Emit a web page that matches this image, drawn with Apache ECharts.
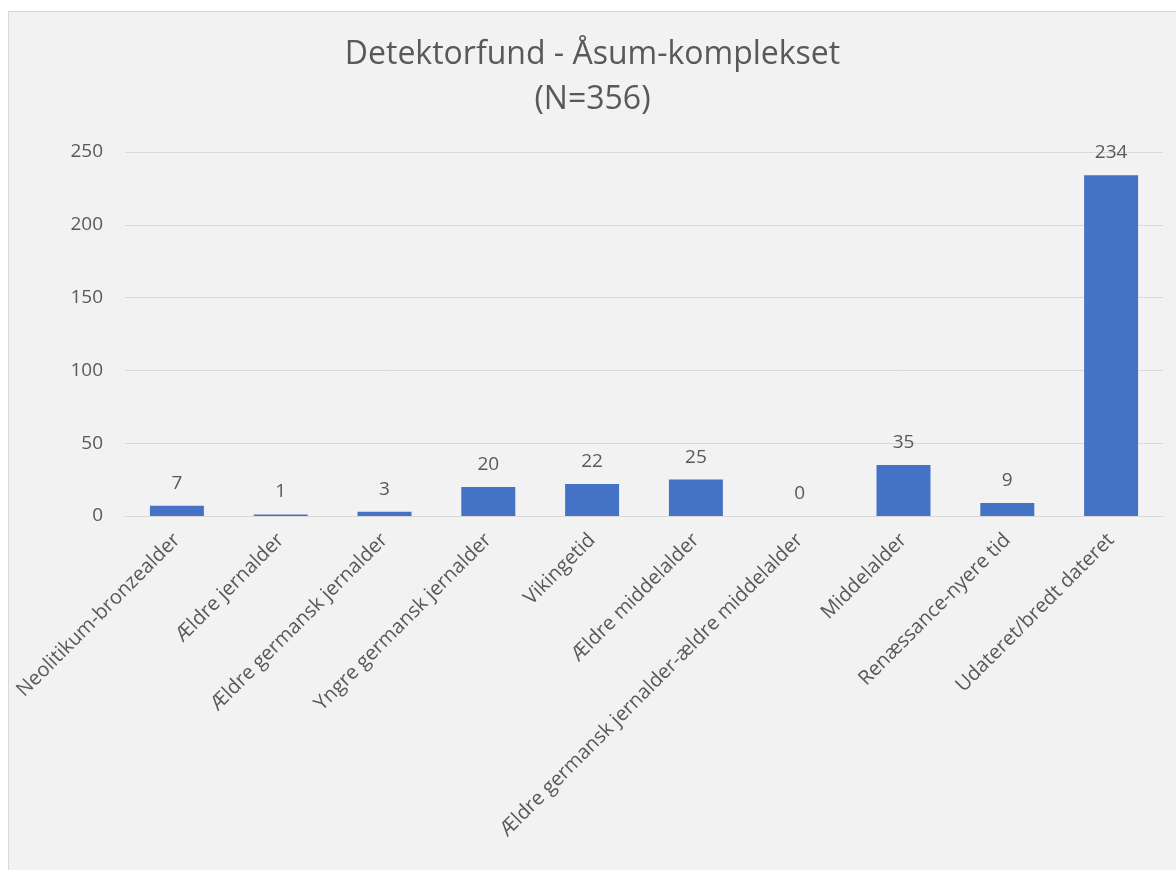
<!DOCTYPE html>
<html>
<head>
<meta charset="utf-8">
<script src="https://cdn.jsdelivr.net/npm/echarts@6/dist/echarts.min.js"></script>
<style>
  html, body { margin: 0; padding: 0; background: #ffffff; }
  #main {
    position: absolute; left: 8px; top: 11px;
    width: 1167px; height: 858px;
    background: #f2f2f2;
    border-left: 1px solid #d9d9d9; border-top: 1px solid #d9d9d9;
  }
</style>
</head>
<body>
<div id="main"></div>
<script>
// kategorier og antal fund
var categories = ['Neolitikum-bronzealder', 'Ældre jernalder', 'Ældre germansk jernalder', 'Yngre germansk jernalder',
  'Vikingetid', 'Ældre middelalder', 'Ældre germansk jernalder-ældre middelalder', 'Middelalder',
  'Renæssance-nyere tid', 'Udateret/bredt dateret']
var counts = [7, 1, 3, 20, 22, 25, 0, 35, 9, 234]
var yTicks = [0, 50, 100, 150, 200, 250]

var myChart = echarts.init(document.getElementById('main'))
myChart.setOption({
  backgroundColor: '#f2f2f2',
  textStyle: { fontFamily: 'Open Sans' },
  title: {
    text: 'Detektorfund - Åsum-komplekset\n(N=356)',
    left: 'center',
    top: 15,
    textStyle: { fontSize: 32, fontWeight: 'normal', color: '#595959', lineHeight: 45, fontFamily: 'Open Sans' }
  },
  grid: { left: 116, right: 13, top: 140, bottom: 354 },
  xAxis: {
    type: 'category',
    data: categories,
    axisLine: { lineStyle: { color: '#d9d9d9' } },
    axisTick: { show: false },
    axisLabel: { rotate: 45, interval: 0, margin: 21, fontSize: 20, color: '#595959' }
  },
  yAxis: {
    type: 'value',
    min: yTicks[0],
    max: yTicks[yTicks.length - 1],
    interval: 50,
    axisLine: { show: false },
    axisTick: { show: false },
    axisLabel: { fontSize: 19, color: '#595959', margin: 22 },
    splitLine: { lineStyle: { color: '#d9d9d9' } }
  },
  series: [{
    type: 'bar',
    data: counts,
    barWidth: '52%',
    itemStyle: { color: '#4472c4' },
    label: { show: true, position: 'top', distance: 13, fontSize: 19, color: '#595959' }
  }]
})
</script>
</body>
</html>
